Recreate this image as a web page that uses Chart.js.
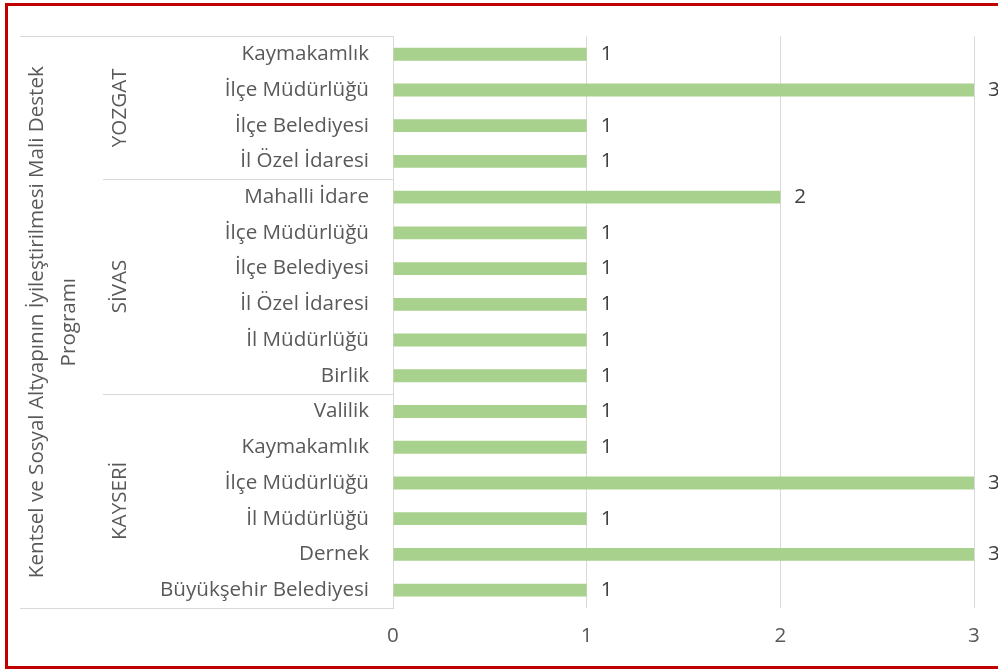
<!DOCTYPE html>
<html lang="tr">
<head>
<meta charset="utf-8">
<title>Kentsel ve Sosyal Altyapının İyileştirilmesi Mali Destek Programı</title>
<script src="https://cdn.jsdelivr.net/npm/chart.js@4.4.1/dist/chart.umd.min.js"></script>
<style>
  html, body { margin: 0; padding: 0; width: 998px; height: 670px; overflow: hidden; background: #fff; }
  #wrap { position: absolute; left: 0; top: 0; width: 1040px; height: 670px; }
  .edge { position: absolute; background: #c00000; pointer-events: none; }
  #e-left { left: 5px; top: 3px; width: 3px; height: 666px; }
  #e-top { left: 5px; top: 3px; width: 993px; height: 3px; }
  #e-bot { left: 5px; top: 666px; width: 993px; height: 3px; }
</style>
</head>
<body>
<div id="wrap"><canvas id="bar-chart"></canvas></div>
<div class="edge" id="e-left"></div>
<div class="edge" id="e-top"></div>
<div class="edge" id="e-bot"></div>

<script>
// kategoriler (yukaridan asagiya)
var categories = [
  "Kaymakamlık", "İlçe Müdürlüğü", "İlçe Belediyesi", "İl Özel İdaresi",
  "Mahalli İdare", "İlçe Müdürlüğü", "İlçe Belediyesi", "İl Özel İdaresi", "İl Müdürlüğü", "Birlik",
  "Valilik", "Kaymakamlık", "İlçe Müdürlüğü", "İl Müdürlüğü", "Dernek", "Büyükşehir Belediyesi"
];
var values = [1, 3, 1, 1, 2, 1, 1, 1, 1, 1, 1, 1, 3, 1, 3, 1];

var groupNames = ["YOZGAT", "SİVAS", "KAYSERİ"];
var groupSizes = [4, 6, 6];
var programLines = ["Kentsel ve Sosyal Altyapının İyileştirilmesi Mali Destek", "Programı"];

var xMin = 0, xMax = 3, xStep = 1;

var FONT = "'Open Sans', sans-serif";
var FSIZE = 20.6;
var GRID = "#d9d9d9";

// grup etiketleri ve ayirici cizgiler
var groupPlugin = {
  id: "groups",
  afterDraw: function(chart) {
    var ctx = chart.ctx;
    var y = chart.scales.y;
    var area = chart.chartArea;
    ctx.save();
    ctx.strokeStyle = GRID;
    ctx.lineWidth = 1;

    function hline(x0, py) {
      py = Math.round(py) + 0.5;
      ctx.beginPath();
      ctx.moveTo(x0, py);
      ctx.lineTo(area.left, py);
      ctx.stroke();
    }
    hline(20, area.top);
    hline(20, area.bottom);

    ctx.fillStyle = "#595959";
    ctx.font = FSIZE + "px " + FONT;
    ctx.textAlign = "center";
    ctx.textBaseline = "middle";

    var start = 0;
    for (var g = 0; g < groupNames.length; g++) {
      var end = start + groupSizes[g];
      var top = start === 0 ? area.top : (y.getPixelForValue(start - 1) + y.getPixelForValue(start)) / 2;
      var bot = end === categories.length ? area.bottom : (y.getPixelForValue(end - 1) + y.getPixelForValue(end)) / 2;
      if (start > 0) hline(103, top);
      ctx.save();
      ctx.translate(120, (top + bot) / 2);
      ctx.rotate(-Math.PI / 2);
      ctx.fillText(groupNames[g], 0, 0);
      ctx.restore();
      start = end;
    }

    var mid = (area.top + area.bottom) / 2;
    var xs = [37, 69];
    for (var i = 0; i < programLines.length; i++) {
      ctx.save();
      ctx.translate(xs[i], mid);
      ctx.rotate(-Math.PI / 2);
      ctx.fillText(programLines[i], 0, 0);
      ctx.restore();
    }

    // deger etiketleri
    var meta = chart.getDatasetMeta(0);
    ctx.fillStyle = "#404040";
    ctx.textAlign = "left";
    meta.data.forEach(function(bar, k) {
      ctx.fillText(String(values[k]), bar.x + 14, bar.y);
    });
    ctx.restore();
  }
};

new Chart(document.getElementById("bar-chart"), {
  type: "bar",
  data: {
    labels: categories,
    datasets: [{
      data: values,
      backgroundColor: "#a9d18e",
      barPercentage: 0.36,
      categoryPercentage: 1
    }]
  },
  options: {
    indexAxis: "y",
    responsive: true,
    maintainAspectRatio: false,
    animation: false,
    layout: { padding: { top: 33, right: 66, bottom: 0, left: 0 } },
    plugins: { legend: { display: false }, tooltip: { enabled: false } },
    scales: {
      x: {
        min: xMin, max: xMax,
        ticks: { stepSize: xStep, padding: 16, color: "#595959", font: { family: FONT, size: FSIZE } },
        grid: { color: GRID, drawTicks: false },
        border: { display: false },
        afterFit: function(s) { s.height = 62; }
      },
      y: {
        ticks: { autoSkip: false, padding: 24, color: "#595959", font: { family: FONT, size: FSIZE } },
        grid: { display: false, drawTicks: false },
        border: { display: true, color: GRID },
        afterFit: function(s) { s.width = 393; }
      }
    }
  },
  plugins: [groupPlugin]
});
</script>
</body>
</html>
